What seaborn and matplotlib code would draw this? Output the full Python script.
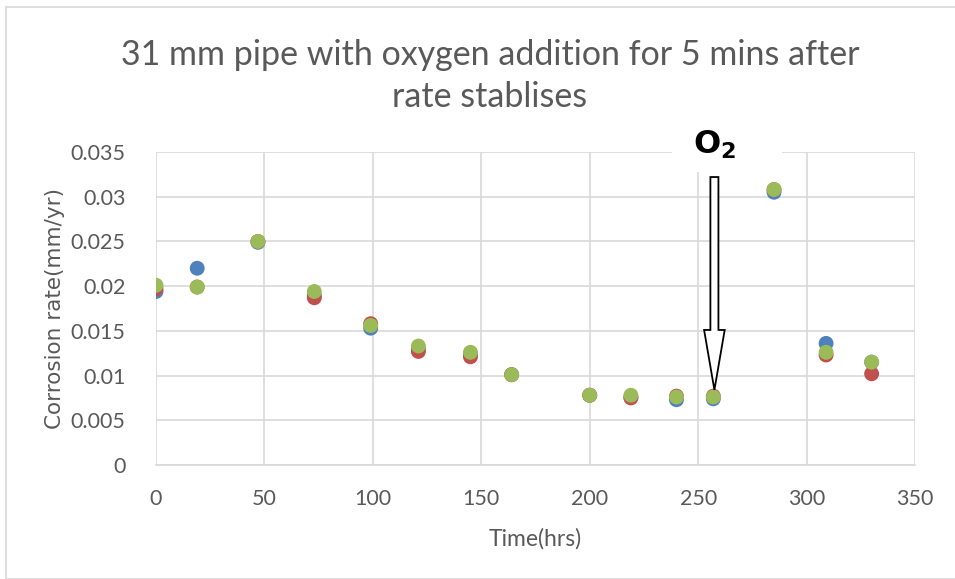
import matplotlib
matplotlib.use("Agg")
import matplotlib.pyplot as plt
import matplotlib.patches as mpatches
from matplotlib.ticker import FuncFormatter, MultipleLocator
import seaborn as sns
import pandas as pd

# Sampling times (hours)
time_hrs = [0, 19, 47, 73, 99, 121, 145, 164, 200, 219, 240, 257, 285, 309, 330]

# Corrosion rate (mm/yr) for the three probes
rate_probe1 = [0.0194, 0.0220, 0.0249, 0.0190, 0.0153, 0.0130, 0.0124, 0.0101,
               0.0078, 0.0076, 0.0073, 0.0074, 0.0305, 0.0136, 0.0115]
rate_probe2 = [0.0197, 0.0199, 0.0250, 0.0187, 0.0158, 0.0127, 0.0121, 0.0101,
               0.0078, 0.0075, 0.0077, 0.0077, 0.0308, 0.0123, 0.0102]
rate_probe3 = [0.0201, 0.0199, 0.0250, 0.0194, 0.0156, 0.0133, 0.0126, 0.0101,
               0.0078, 0.0078, 0.0076, 0.0076, 0.0308, 0.0126, 0.0115]

series_names = ["Probe 1", "Probe 2", "Probe 3"]
series_colors = ["#4F81BD", "#C0504D", "#9BBB59"]

title_text = "31 mm pipe with oxygen addition for 5 mins after\nrate stablises"
x_label = "Time(hrs)"
y_label = "Corrosion rate(mm/yr)"
o2_time = 257.5

df = pd.DataFrame({
    "time": time_hrs * 3,
    "rate": rate_probe1 + rate_probe2 + rate_probe3,
    "probe": [series_names[0]] * len(time_hrs)
             + [series_names[1]] * len(time_hrs)
             + [series_names[2]] * len(time_hrs),
})

sns.set_theme(style="white")
plt.rcParams["font.family"] = ["Lato", "DejaVu Sans"]

fig = plt.figure(figsize=(9.55, 5.79), dpi=100)
ax = fig.add_axes([156 / 955, 1 - 465 / 579, (915 - 156) / 955, (465 - 152) / 579])

sns.scatterplot(data=df, x="time", y="rate", hue="probe",
                palette=dict(zip(series_names, series_colors)),
                s=115, linewidth=0, edgecolor="none", alpha=1,
                legend=False, ax=ax, zorder=3)

ax.set_xlim(0, 350)
ax.set_ylim(0, 0.035)
ax.xaxis.set_major_locator(MultipleLocator(50))
ax.yaxis.set_major_locator(MultipleLocator(0.005))
ax.yaxis.set_major_formatter(FuncFormatter(lambda v, p: "0" if abs(v) < 1e-12 else f"{v:.3f}".rstrip("0")))
ax.grid(True, color="#D9D9D9", linewidth=1.2)
ax.set_axisbelow(True)
for side in ["top", "right", "left"]:
    ax.spines[side].set_visible(False)
ax.spines["bottom"].set_color("#D9D9D9")
ax.spines["bottom"].set_linewidth(1.2)
ax.tick_params(axis="y", length=0, labelsize=15.5, labelcolor="#595959", pad=22)
ax.tick_params(axis="x", length=0, labelsize=15.5, labelcolor="#595959", pad=17)

ax.set_xlabel(x_label, fontsize=16.5, color="#595959")
ax.set_ylabel(y_label, fontsize=15.5, color="#595959", family=["DejaVu Sans"])
ax.xaxis.set_label_coords(0.5, -0.201)
ax.yaxis.set_label_coords(-0.12, 0.5)

fig.text(490 / 955, 1 - 76 / 579, title_text, ha="center", va="center",
         fontsize=24.5, color="#595959", linespacing=1.35)

# White patch behind the O2 label hides the grid around it
ax.add_patch(mpatches.Rectangle((0.68, 0.935), 0.145, 0.2, transform=ax.transAxes,
                                facecolor="white", edgecolor="none",
                                zorder=4, clip_on=False))
ax.text(o2_time, 0.0358, r"$\mathbf{O_2}$", ha="center", va="center",
        fontsize=23, color="black", zorder=6, clip_on=False)

# Hollow block arrow marking the oxygen addition
arrow = mpatches.FancyArrow(o2_time, 0.0322, 0, -0.0322 + 0.0084,
                            width=3.7, head_width=9.5, head_length=0.0067,
                            length_includes_head=True, facecolor="white",
                            edgecolor="black", linewidth=1.3, zorder=5)
ax.add_patch(arrow)

# Chart frame
fig.patches.append(mpatches.Rectangle((6 / 955, 0), 1, 1 - 7 / 579,
                                      transform=fig.transFigure, fill=False,
                                      edgecolor="#D9D9D9", linewidth=1.2))

fig.savefig("out.png", dpi=100)
